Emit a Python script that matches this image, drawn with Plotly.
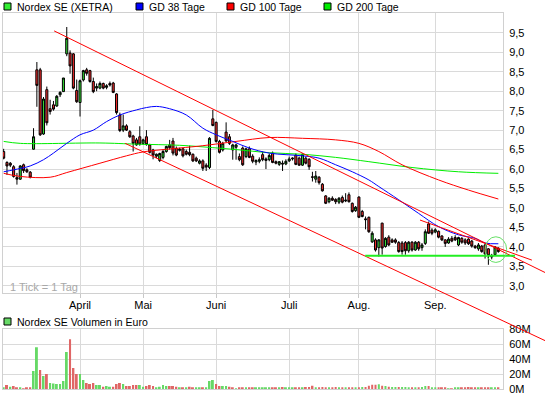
import plotly.graph_objects as go

W, H = 545, 398

# ---------------- data ----------------
days = list(range(150))

opens = [6.45, 6.17, 6.15, 6.06, 5.78, 5.74, 6.11, 5.98, 5.92, 6.51,
         8.55, 8.55, 6.90, 8.04, 7.55, 7.65, 7.62, 7.91, 7.99, 8.96,
         8.98, 8.96, 8.02, 7.71, 8.29, 8.55, 8.53, 8.25, 8.08, 8.08,
         8.20, 8.10, 8.20, 8.21, 7.93, 7.39, 7.00, 7.11, 6.96, 6.85,
         6.75, 6.83, 6.66, 6.83, 6.62, 6.49, 6.33, 6.22, 6.30, 6.45,
         6.62, 6.72, 6.53, 6.48, 6.52, 6.45, 6.43, 6.38, 6.28, 6.15,
         6.21, 6.10, 6.04, 7.29, 7.20, 6.71, 6.49, 6.95, 6.83, 6.49,
         6.56, 6.32, 6.54, 6.32, 6.52, 6.33, 6.18, 6.20, 6.37, 6.22,
         6.24, 6.41, 6.19, 6.12, 6.15, 6.13, 6.21, 6.26, 6.36, 6.28,
         6.10, 6.28, 6.25, 5.80, 5.74, 5.79, 5.61, 5.31, 5.16, 5.25,
         5.22, 5.15, 5.27, 5.18, 5.34, 5.12, 4.93, 5.28, 4.91, 4.72,
         4.76, 4.13, 4.18, 3.98, 4.61, 4.01, 4.25, 4.18, 4.18, 4.11,
         4.10, 4.11, 3.90, 4.12, 3.92, 4.12, 3.98, 4.09, 4.59, 4.43,
         4.38, 4.40, 4.28, 4.18, 4.10, 4.22, 4.24, 4.05, 4.22, 4.18,
         4.20, 4.15, 4.02, 3.95, 4.02, 4.05, 3.95, 3.74, 3.80, 3.97]

highs = [6.52, 6.20, 6.18, 6.10, 5.90, 6.10, 6.14, 6.02, 5.95, 7.05,
         8.75, 8.60, 7.85, 8.12, 7.78, 7.75, 7.90, 8.00, 8.34, 9.65,
         9.05, 8.98, 8.30, 8.30, 8.55, 8.60, 8.55, 8.35, 8.20, 8.25,
         8.22, 8.18, 8.25, 8.24, 7.95, 7.45, 7.40, 7.15, 7.00, 6.88,
         6.80, 7.10, 6.78, 7.00, 6.65, 6.52, 6.40, 6.42, 6.50, 6.60,
         6.75, 6.80, 6.58, 6.55, 6.55, 6.50, 6.60, 6.40, 6.32, 6.25,
         6.25, 6.15, 6.82, 7.52, 7.22, 6.75, 6.70, 7.20, 6.90, 6.65,
         6.65, 6.40, 6.58, 6.55, 6.58, 6.38, 6.25, 6.30, 6.45, 6.30,
         6.40, 6.45, 6.22, 6.20, 6.22, 6.25, 6.32, 6.30, 6.40, 6.32,
         6.40, 6.32, 6.28, 5.93, 5.95, 5.82, 5.64, 5.33, 5.28, 5.30,
         5.25, 5.28, 5.32, 5.38, 5.40, 5.14, 5.05, 5.30, 4.95, 4.78,
         4.78, 4.40, 4.22, 4.20, 4.62, 4.25, 4.30, 4.22, 4.22, 4.15,
         4.15, 4.15, 4.15, 4.15, 4.15, 4.15, 4.10, 4.45, 4.65, 4.48,
         4.48, 4.42, 4.30, 4.20, 4.25, 4.28, 4.30, 4.26, 4.25, 4.22,
         4.22, 4.18, 4.05, 4.10, 4.05, 4.08, 3.97, 3.82, 4.02, 3.99]

lows = [6.25, 5.85, 6.05, 5.78, 5.60, 5.72, 5.90, 5.90, 5.76, 6.50,
        7.60, 6.85, 6.88, 7.12, 7.40, 7.50, 7.60, 7.85, 7.98, 8.90,
        8.45, 8.05, 7.70, 7.35, 8.25, 8.40, 8.22, 7.95, 8.00, 8.05,
        8.05, 8.05, 8.12, 7.95, 7.40, 6.95, 6.95, 6.98, 6.80, 6.45,
        6.60, 6.60, 6.62, 6.60, 6.40, 6.25, 6.28, 6.18, 6.25, 6.42,
        6.50, 6.35, 6.33, 6.45, 6.30, 6.35, 6.33, 6.18, 6.18, 6.12,
        5.95, 5.95, 6.00, 7.10, 6.68, 6.40, 6.45, 6.70, 6.62, 6.24,
        6.24, 6.20, 6.08, 6.28, 6.28, 6.15, 6.10, 6.15, 6.20, 6.00,
        6.20, 6.15, 6.12, 6.08, 5.95, 6.10, 6.18, 6.22, 6.10, 6.08,
        6.08, 6.12, 5.98, 5.68, 5.65, 5.60, 5.42, 5.10, 5.12, 5.18,
        5.10, 5.10, 5.12, 5.15, 5.14, 4.88, 4.90, 4.74, 4.76, 4.45,
        4.36, 4.10, 3.88, 3.75, 3.80, 3.98, 4.02, 4.10, 4.08, 3.85,
        3.80, 3.80, 3.85, 3.88, 3.90, 3.90, 3.90, 4.05, 4.33, 4.30,
        4.35, 4.22, 4.15, 4.00, 4.08, 4.12, 4.15, 4.02, 4.08, 4.05,
        4.05, 3.98, 3.95, 3.90, 3.85, 3.70, 3.54, 3.68, 3.78, 3.85]

closes = [6.28, 6.08, 6.10, 5.81, 5.74, 6.08, 5.96, 5.93, 5.79, 6.83,
          8.15, 6.88, 7.80, 7.19, 7.48, 7.54, 7.87, 7.97, 8.34, 9.36,
          8.65, 8.08, 7.73, 8.27, 8.53, 8.46, 8.25, 7.99, 8.12, 8.20,
          8.08, 8.14, 8.16, 7.97, 7.45, 6.99, 7.11, 7.00, 6.83, 6.66,
          6.62, 6.64, 6.75, 6.63, 6.43, 6.36, 6.38, 6.40, 6.45, 6.58,
          6.55, 6.41, 6.36, 6.51, 6.34, 6.38, 6.37, 6.21, 6.21, 6.21,
          6.02, 6.05, 6.79, 7.12, 6.71, 6.43, 6.66, 6.72, 6.66, 6.62,
          6.62, 6.24, 6.11, 6.52, 6.30, 6.20, 6.22, 6.24, 6.24, 6.26,
          6.35, 6.17, 6.15, 6.19, 6.13, 6.20, 6.26, 6.28, 6.12, 6.10,
          6.38, 6.15, 6.06, 5.79, 5.82, 5.65, 5.44, 5.12, 5.25, 5.20,
          5.16, 5.25, 5.15, 5.20, 5.16, 4.91, 5.02, 4.76, 4.78, 4.70,
          4.39, 4.35, 3.92, 4.18, 3.97, 4.22, 4.05, 4.12, 4.12, 3.88,
          3.88, 3.90, 4.12, 3.92, 4.12, 3.95, 4.05, 4.39, 4.35, 4.35,
          4.44, 4.25, 4.18, 4.09, 4.20, 4.15, 4.18, 4.24, 4.12, 4.10,
          4.08, 4.02, 3.98, 4.05, 3.88, 3.82, 3.78, 3.78, 4.00, 3.88]

volumes_m = [2.7, 5.8, 3.5, 4.4, 2.7, 2.7, 1.3, 2.7, 2.7, 24.4,
             56.4, 25.8, 17.8, 20.4, 8.4, 7.6, 7.1, 7.1, 11.1, 49.8,
             67.0, 28.4, 20.4, 20.4, 12.4, 8.4, 7.1, 8.4, 5.8, 5.8,
             3.5, 4.4, 3.5, 3.5, 7.1, 8.4, 7.1, 4.4, 4.4, 5.8,
             5.8, 5.8, 3.5, 4.4, 5.8, 4.4, 2.7, 3.5, 5.8, 4.4,
             4.4, 4.4, 3.5, 2.7, 2.7, 2.7, 3.5, 2.7, 1.8, 2.7,
             2.7, 2.7, 11.1, 12.4, 7.1, 4.4, 4.4, 4.4, 3.5, 1.8,
             1.0, 2.7, 1.8, 2.7, 1.8, 1.8, 2.7, 1.8, 2.7, 1.8,
             1.8, 1.8, 1.8, 1.8, 3.1, 1.8, 1.8, 1.8, 1.8, 1.8,
             1.8, 3.1, 3.1, 4.8, 1.8, 2.7, 3.1, 1.8, 2.7, 1.8,
             3.1, 1.8, 1.8, 1.8, 1.8, 2.7, 1.8, 1.8, 3.1, 3.1,
             4.8, 6.2, 6.2, 6.6, 4.8, 4.4, 3.5, 3.1, 3.1, 3.1,
             3.1, 3.1, 1.8, 1.8, 1.8, 1.8, 3.1, 4.4, 4.4, 1.8,
             1.8, 1.8, 1.8, 1.8, 0.9, 0.9, 1.8, 1.8, 1.8, 1.8,
             3.1, 1.8, 1.8, 1.8, 1.8, 1.8, 1.8, 1.8, 1.8, 1.8]

ma38_idx = [0, 3, 8, 12, 15, 19, 23, 27, 31, 35, 40, 43, 46, 50, 55, 60, 64,
            69, 74, 80, 90, 95, 100, 105, 110, 113, 119, 125, 131, 137, 142, 145, 149]
ma38_val = [5.93, 5.98, 6.08, 6.24, 6.41, 6.66, 6.88, 7.00, 7.22, 7.39, 7.52,
            7.58, 7.61, 7.55, 7.39, 7.05, 6.88, 6.71, 6.54, 6.41, 6.34, 6.28,
            6.11, 5.93, 5.72, 5.55, 5.21, 4.86, 4.52, 4.31, 4.22, 4.10, 4.08]

ma100_idx = [0, 5, 14, 19, 29, 37, 42, 53, 60, 70, 80, 90, 100, 107, 113, 120,
             131, 140, 149]
ma100_val = [5.89, 5.81, 5.79, 5.91, 6.15, 6.34, 6.44, 6.54, 6.60, 6.71, 6.81,
             6.79, 6.75, 6.66, 6.45, 6.11, 5.72, 5.46, 5.23]

ma200_idx = [0, 5, 29, 40, 53, 63, 70, 80, 90, 100, 110, 123, 137, 149]
ma200_val = [6.71, 6.66, 6.67, 6.64, 6.61, 6.55, 6.50, 6.42, 6.38, 6.30, 6.19,
             6.04, 5.93, 5.89]

month_idx = [23, 42, 64, 86, 107, 130]
month_lbl = ["April", "Mai", "Juni", "Juli", "Aug.", "Sep."]

price_ticks = [3.0, 3.5, 4.0, 4.5, 5.0, 5.5, 6.0, 6.5, 7.0, 7.5, 8.0, 8.5, 9.0, 9.5]
price_tick_lbl = ["3,0", "3,5", "4,0", "4,5", "5,0", "5,5", "6,0", "6,5",
                  "7,0", "7,5", "8,0", "8,5", "9,0", "9,5"]
vol_ticks = [0, 20, 40, 60, 80]
vol_tick_lbl = ["0M", "20M", "40M", "60M", "80M"]

# trend lines (start index, start price, end index, end price)
trend_i0 = [15.2, 125.4, 36.6]
trend_v0 = [9.55, 4.69, 6.66]
trend_i1 = [163.1, 159.1, 163.1]
trend_v1 = [3.34, 3.66, 1.59]
support_val = 3.77
support_i = [108.9, 154.0]
circle_i = [145.0, 151.5]
circle_v = [3.60, 4.26]

# ---------------- layout geometry ----------------
XR = [-0.2, 150.4]
YR = [2.815, 10.01]
VR = [0, 80.3]
X0, X1 = 3 / W, 503 / W
PY0, PY1 = (H - 293) / H, (H - 13) / H
VY0, VY1 = (H - 389.3) / H, (H - 329.3) / H


def px(i):
    return X0 + (i - XR[0]) / (XR[1] - XR[0]) * (X1 - X0)


def py(v):
    return PY0 + (v - YR[0]) / (YR[1] - YR[0]) * (PY1 - PY0)


FONT = "Liberation Sans, Arial, sans-serif"
GRID = "#dadada"

fig = go.Figure()

fig.add_trace(go.Candlestick(
    x=days, open=opens, high=highs, low=lows, close=closes,
    increasing=dict(line=dict(color="black", width=1), fillcolor="#33d633"),
    decreasing=dict(line=dict(color="black", width=1), fillcolor="#ee2a2a"),
    whiskerwidth=0, showlegend=False, xaxis="x", yaxis="y"))

fig.add_trace(go.Scatter(x=ma200_idx, y=ma200_val, mode="lines",
                         line=dict(color="#00ee00", width=1, shape="spline"),
                         showlegend=False, xaxis="x", yaxis="y"))
fig.add_trace(go.Scatter(x=ma100_idx, y=ma100_val, mode="lines",
                         line=dict(color="#ff0000", width=1, shape="spline"),
                         showlegend=False, xaxis="x", yaxis="y"))
fig.add_trace(go.Scatter(x=ma38_idx, y=ma38_val, mode="lines",
                         line=dict(color="#0000ff", width=1, shape="spline"),
                         showlegend=False, xaxis="x", yaxis="y"))

vol_colors = ["#66d966" if (k == 0 or closes[k] >= closes[k - 1]) else "#e06666"
              for k in range(len(closes))]
fig.add_trace(go.Bar(x=days, y=volumes_m, marker=dict(color=vol_colors, line=dict(width=0)),
                     width=0.6, showlegend=False, xaxis="x2", yaxis="y2"))

shapes = []
for a, b, c, d in zip(trend_i0, trend_v0, trend_i1, trend_v1):
    shapes.append(dict(type="line", xref="paper", yref="paper",
                       x0=px(a), y0=py(b), x1=px(c), y1=py(d),
                       line=dict(color="#ff0000", width=1)))
shapes.append(dict(type="line", xref="paper", yref="paper",
                   x0=px(support_i[0]), y0=py(support_val),
                   x1=px(support_i[1]), y1=py(support_val),
                   line=dict(color="#22ee22", width=2)))
shapes.append(dict(type="circle", xref="paper", yref="paper",
                   x0=px(circle_i[0]), y0=py(circle_v[0]),
                   x1=px(circle_i[1]), y1=py(circle_v[1]),
                   line=dict(color="#66e066", width=1)))

# legends (squares + labels)
legend_items = [("Nordex SE (XETRA)", "#33ee33", 4, 15),
                ("GD 38 Tage", "#0000ff", 136, 147),
                ("GD 100 Tage", "#ff0000", 227, 238),
                ("GD 200 Tage", "#00ee00", 324, 335)]
annotations = []
for name, col, sx, tx in legend_items:
    shapes.append(dict(type="rect", xref="paper", yref="paper",
                       x0=sx / W, x1=(sx + 7) / W, y0=(H - 10) / H, y1=(H - 3) / H,
                       fillcolor=col, line=dict(color="black", width=1)))
    annotations.append(dict(text=name, xref="paper", yref="paper", x=tx / W, y=(H - 6.5) / H,
                            xanchor="left", yanchor="middle", showarrow=False,
                            font=dict(family=FONT, size=10.5, color="black")))
shapes.append(dict(type="rect", xref="paper", yref="paper",
                   x0=4 / W, x1=11 / W, y0=(H - 325) / H, y1=(H - 318) / H,
                   fillcolor="#66d966", line=dict(color="black", width=1)))
annotations.append(dict(text="Nordex SE Volumen in Euro", xref="paper", yref="paper",
                        x=15 / W, y=(H - 321.5) / H, xanchor="left", yanchor="middle",
                        showarrow=False, font=dict(family=FONT, size=10.5, color="black")))
annotations.append(dict(text="1 Tick = 1 Tag", xref="paper", yref="paper",
                        x=8 / W, y=(H - 287) / H, xanchor="left", yanchor="middle",
                        showarrow=False, font=dict(family=FONT, size=11, color="#a8a8a8")))

axis_common = dict(showgrid=True, gridcolor=GRID, gridwidth=1, zeroline=False,
                   showline=True, mirror=True, linecolor="#d0d0d0", linewidth=1)

fig.update_layout(
    width=W, height=H, margin=dict(l=0, r=0, t=0, b=0, autoexpand=False),
    autosize=False,
    paper_bgcolor="white", plot_bgcolor="white",
    showlegend=False, boxgap=0.12,
    font=dict(family=FONT, size=11, color="black"),
    xaxis=dict(domain=[X0, X1], range=XR, anchor="y", tickmode="array",
               tickvals=month_idx, ticktext=month_lbl, ticks="outside", ticklen=4,
               tickcolor="#c8c8c8", rangeslider=dict(visible=False),
               ticklabelstandoff=-2,
               tickfont=dict(family=FONT, size=11, color="black"), **axis_common),
    yaxis=dict(domain=[PY0, PY1], range=YR, side="right", anchor="x",
               tickmode="array", tickvals=price_ticks, ticktext=price_tick_lbl,
               ticks="", ticklabelstandoff=3,
               tickfont=dict(family=FONT, size=11, color="black"), **axis_common),
    xaxis2=dict(domain=[X0, X1], range=XR, anchor="y2", tickmode="array",
                tickvals=month_idx, showticklabels=False, ticks="", **axis_common),
    yaxis2=dict(domain=[VY0, VY1], range=VR, side="right", anchor="x2",
                tickmode="array", tickvals=vol_ticks, ticktext=vol_tick_lbl,
                ticks="", ticklabelstandoff=3,
                tickfont=dict(family=FONT, size=11, color="black"), **axis_common),
    shapes=shapes, annotations=annotations,
)

fig.write_html("out.html", config={"responsive": False, "displayModeBar": False},
               post_script="document.body.style.margin='0px';document.body.style.overflow='hidden';")
